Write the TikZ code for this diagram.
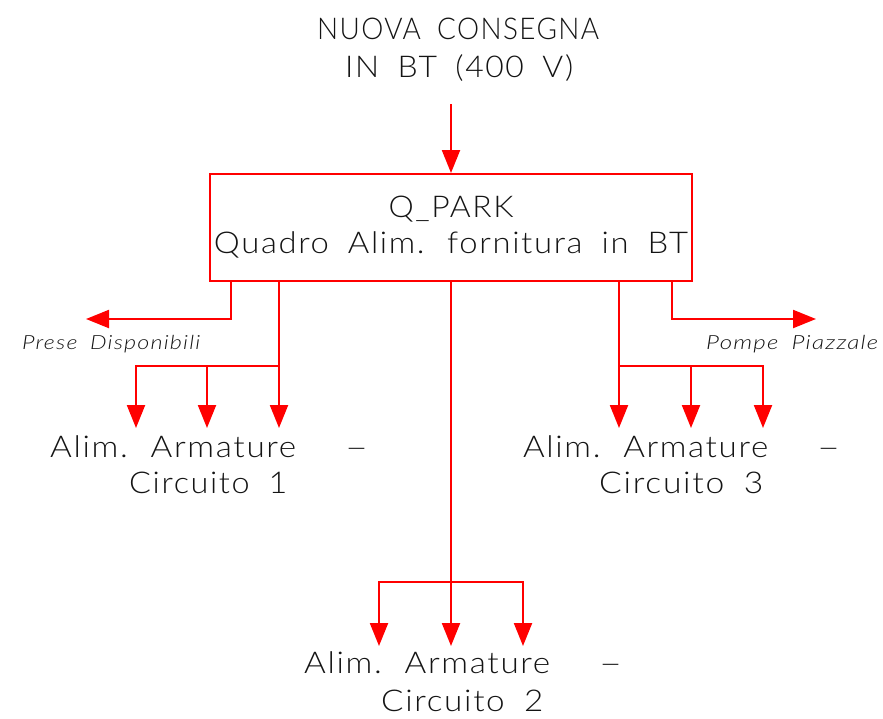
\documentclass[tikz,border=0pt]{standalone}
\usepackage{fontspec}
\setmainfont{Lato}[UprightFont=* Light, ItalicFont=* Light Italic, LetterSpace=5, WordSpace=1.8]
\usetikzlibrary{arrows.meta}
\newcommand{\fitw}[2]{\resizebox{#1}{\height}{#2}}
\newcommand{\cadash}{\fitw{19pt}{—}}
\definecolor{cadred}{RGB}{255,0,0}
\definecolor{cadink}{RGB}{20,20,20}
\begin{document}
\begin{tikzpicture}[x=1pt,y=-1pt,
  feed/.style={draw=cadred, line width=2.2pt},
  arr/.style={feed, -{Triangle[length=23pt,width=18pt]}},
  lbl/.style={anchor=base west, inner sep=0pt, text=cadink, font=\fontsize{30}{36}\selectfont},
  note/.style={anchor=base west, inner sep=0pt, text=cadink, font=\fontsize{19.5}{24}\selectfont\itshape},
  panel/.style={draw=cadred, line width=2pt, minimum width=482pt, minimum height=107pt,
    inner sep=0pt, align=center, text=cadink, font=\fontsize{30}{36}\selectfont},
]
\useasboundingbox (0,0) rectangle (883,718);

% title
\node[lbl] (t1) at (317,39) {\fitw{282pt}{NUOVA CONSEGNA}};
\node[lbl] (t2) at (345,77) {\fitw{228pt}{IN BT (400 V)}};
\coordinate (src) at (451,104);

% main panel
\node[panel] (qpark) at (451,227.5) {\fitw{125pt}{Q\_PARK}\\\fitw{474pt}{Quadro Alim. fornitura in BT}};
\draw[arr] (src) -- (qpark.north);

% side outputs
\coordinate (presetip) at (86,319);
\coordinate (pompetip) at (816,319);
\draw[arr] ([xshift=-220pt]qpark.south) |- (presetip);
\draw[arr] ([xshift=221pt]qpark.south) |- (pompetip);
\node[note] (prese) at (22,349) {\fitw{178pt}{Prese Disponibili}};
\node[note] (pompe) at (706,349) {\fitw{172pt}{Pompe Piazzale}};

% circuit 1
\coordinate (j1) at (279,366);
\coordinate (c1a) at (136,428);
\coordinate (c1b) at (207,428);
\coordinate (c1c) at (279,428);
\draw[arr] ([xshift=-172pt]qpark.south) -- (c1c);
\draw[arr] (j1) -| (c1a);
\draw[arr] (c1b |- j1) -- (c1b);
\node[lbl] (a1) at (50,457) {\fitw{246pt}{Alim. Armature}\hspace{51pt}\cadash};
\node[lbl] (b1) at (129,493) {\fitw{158pt}{Circuito 1}};

% circuit 3
\coordinate (j3) at (619,366);
\coordinate (c3a) at (619,428);
\coordinate (c3b) at (691,428);
\coordinate (c3c) at (763,428);
\draw[arr] ([xshift=168pt]qpark.south) -- (c3a);
\draw[arr] (j3) -| (c3c);
\draw[arr] (c3b |- j3) -- (c3b);
\node[lbl] (a3) at (523,457) {\fitw{245pt}{Alim. Armature}\hspace{51pt}\cadash};
\node[lbl] (b3) at (599,493) {\fitw{164pt}{Circuito 3}};

% circuit 2
\coordinate (j2) at (451,582);
\coordinate (c2a) at (379,646);
\coordinate (c2b) at (451,646);
\coordinate (c2c) at (523,646);
\draw[arr] (qpark.south) -- (c2b);
\draw[arr] (j2) -| (c2a);
\draw[arr] (j2) -| (c2c);
\node[lbl] (a2) at (304,673) {\fitw{246pt}{Alim. Armature}\hspace{51pt}\cadash};
\node[lbl] (b2) at (381,711) {\fitw{162pt}{Circuito 2}};
\end{tikzpicture}
\end{document}
